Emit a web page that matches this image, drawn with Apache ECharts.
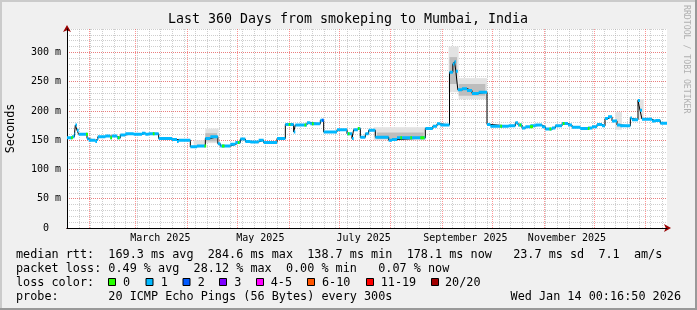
<!DOCTYPE html>
<html>
<head>
<meta charset="utf-8">
<script src="https://cdn.jsdelivr.net/npm/echarts@6/dist/echarts.min.js"></script>
<style>
  html, body { margin: 0; padding: 0; background: #f0f0f0; }
  #main { width: 697px; height: 310px; }
</style>
</head>
<body>
<div id="main"></div>
<script>
// time span: 360 days ending Wed Jan 14 2026
const startDay = Date.UTC(2025, 0, 19);
const spanDays = 360;

// median rtt (ms), step values: medianMs[i] holds from medianDays[i] to medianDays[i+1]
const medianDays = [0, 3, 4.5, 5, 6, 7, 12, 13, 17, 18, 18.5, 23, 26, 27, 30, 32, 35, 40, 45, 47, 49, 55,
  63, 66, 67, 74, 78, 83, 86, 90.5, 92, 98, 101, 104, 107, 110, 115, 118, 126, 131, 136, 137, 144, 146,
  152, 154, 162, 168, 171, 172, 174.5, 176, 179, 181, 185, 193, 195, 198, 215, 219.5, 222, 224, 229.5,
  231.5, 232.5, 233.3, 234.5, 237, 240, 243, 247, 252, 254, 265, 269, 270.6, 273, 275, 278, 281, 285,
  287, 291, 293, 297, 300.6, 303, 308, 312.6, 315, 318, 321, 322.8, 324.6, 327, 330, 332, 338, 339,
  342.6, 343.8, 345, 351, 353, 356, 360];
const medianMs = [154, 156, 161, 176, 167, 160, 153, 150, 148, 151, 156, 157, 154, 157, 154, 159, 161, 160,
  162, 160, 161, 153, 151, 148, 150, 139, 140, 153, 156, 144, 140, 143, 146, 152, 148, 147, 150, 146, 153,
  177, 164, 176, 180, 178, 184, 164, 168, 161, 153, 168, 170, 155, 161, 167, 155, 150, 151, 154, 170, 174,
  178, 176, 266, 280, 284, 268, 236, 238, 235, 230, 232, 177, 174, 174.5, 180, 176, 171, 173, 174.5, 176,
  173, 169, 171, 174.5, 178.5, 176, 172, 170, 171, 173, 177, 174.5, 187, 190, 183, 176, 174.5, 188, 185,
  218, 201, 186, 183, 183.5, 179, 178];

// day ranges where the median is drawn in another loss colour
const lossZeroRanges = [[2.5, 3.5], [11.4, 12.6], [26, 27], [30.5, 31.5], [51.5, 52.5], [82.5, 83.5],
  [93, 94.5], [102.5, 103.5], [133, 134], [142.5, 143.5], [147, 148], [168.5, 169.5], [174.5, 175.5],
  [200, 201], [206, 207], [212, 214.5], [260, 261], [271.5, 272.5], [277.8, 279.6], [289.5, 290.5],
  [297.5, 298.5], [312.5, 313.5]];
const lossTwoRanges = [[153, 154]];

// smoke: [fromDay, toDay, lowMs, highMs]
const smokeOuter = [[76, 83, 138, 150], [83, 91, 145, 170], [184, 215, 150, 172], [229, 235, 232, 310],
  [235, 252, 220, 256], [329, 333, 168, 198], [343, 346, 186, 220]];
const smokeInner = [[83, 90, 148, 162], [186, 214, 152, 163], [229.5, 234, 246, 292], [235, 251, 226, 246]];

const monthLabels = {
  '2025-03-16': 'March 2025',
  '2025-05-15': 'May 2025',
  '2025-07-16': 'July 2025',
  '2025-09-15': 'September 2025',
  '2025-11-15': 'November 2025'
};

const lossNames = ['0', '1', '2', '3', '4-5', '6-10', '11-19', '20/20'];
const lossColors = ['#26ff00', '#00b8ff', '#0059ff', '#7e00ff', '#ff00ff', '#ff5500', '#ff0000', '#a10000'];

const titleText = 'Last 360 Days from smokeping to Mumbai, India';
const statsRtt = 'median rtt:  169.3 ms avg  284.6 ms max  138.7 ms min  178.1 ms now   23.7 ms sd  7.1  am/s';
const statsLoss = 'packet loss: 0.49 % avg  28.12 % max  0.00 % min   0.07 % now';
const probeText = 'probe:       20 ICMP Echo Pings (56 Bytes) every 300s';
const dateText = 'Wed Jan 14 00:16:50 2026';

const mono = "'DejaVu Sans Mono', monospace";
const minorColor = 'rgba(165,165,165,0.55)';
const majorColor = 'rgba(255,60,60,0.55)';

const dayLabels = [];
for (let i = 0; i <= spanDays; i++) {
  dayLabels.push(new Date(startDay + i * 86400000).toISOString().slice(0, 10));
}
// calendar grid positions (days from start)
const monthStarts = [];
const sundays = [];
dayLabels.forEach((s, i) => {
  if (s.slice(8) === '01') monthStarts.push(i);
  else if (new Date(s + 'T00:00:00Z').getUTCDay() === 0 && i > 0) sundays.push(i);
});

function medianAt(d) {
  let v = medianMs[0];
  for (let i = 0; i < medianDays.length; i++) {
    if (medianDays[i] <= d) v = medianMs[i];
  }
  return v;
}

const medianLine = medianDays.map((d, i) => [d, medianMs[i]]);

const lossOnePieces = [];
for (let i = 0; i < medianDays.length - 1; i++) {
  lossOnePieces.push([medianDays[i], medianMs[i]], [medianDays[i + 1], medianMs[i]], [medianDays[i + 1], null]);
}

function rangePieces(ranges) {
  const out = [];
  ranges.forEach(r => {
    const v = medianAt(r[0]);
    out.push([r[0], v], [r[1], v], [r[1], null]);
  });
  return out;
}

function smokeSeries(rows, color) {
  return {
    type: 'custom',
    xAxisIndex: 2,
    yAxisIndex: 0,
    clip: true,
    silent: true,
    encode: { x: [0, 1], y: [2, 3] },
    data: rows,
    renderItem: function (params, api) {
      const a = api.coord([api.value(0), api.value(3)]);
      const b = api.coord([api.value(1), api.value(2)]);
      return {
        type: 'rect',
        shape: { x: a[0], y: a[1], width: b[0] - a[0], height: b[1] - a[1] },
        style: { fill: color }
      };
    }
  };
}

// vertical calendar grid lines, placed through the day axis
function gridSeries(days, color) {
  return {
    type: 'custom',
    xAxisIndex: 2,
    yAxisIndex: 0,
    silent: true,
    z: 1,
    encode: { x: 0, y: 1 },
    data: days.map(d => [d, 0]),
    renderItem: function (params, api) {
      const top = api.coord([api.value(0), 340]);
      const bottom = api.coord([api.value(0), 0]);
      const x = Math.round(top[0]) + 0.5;
      return {
        type: 'line',
        shape: { x1: x, y1: top[1], x2: x, y2: bottom[1] },
        style: { stroke: color, lineWidth: 1, lineDash: [1, 1] }
      };
    }
  };
}

function segSeries(data, color, width) {
  return {
    type: 'line',
    xAxisIndex: 2,
    yAxisIndex: 0,
    data: data,
    symbol: 'none',
    connectNulls: false,
    lineStyle: { color: color, width: width },
    silent: true
  };
}

// text and legend blocks under the plot
const graphics = [
  { type: 'rect', shape: { x: 0, y: 0, width: 697, height: 2 }, style: { fill: '#cbcbcb' } },
  { type: 'rect', shape: { x: 0, y: 0, width: 2, height: 310 }, style: { fill: '#cbcbcb' } },
  { type: 'rect', shape: { x: 0, y: 308, width: 697, height: 2 }, style: { fill: '#999999' } },
  { type: 'rect', shape: { x: 695, y: 0, width: 2, height: 310 }, style: { fill: '#999999' } },
  { type: 'text', x: 348, y: 19.5, style: { text: titleText, font: '13.3px ' + mono, fill: '#000', align: 'center', verticalAlign: 'middle' } },
  { type: 'text', x: 686, y: 5, rotation: -Math.PI / 2, style: { text: 'RRDTOOL / TOBI OETIKER', font: '8.2px ' + mono, fill: '#b0b0b0', align: 'left', verticalAlign: 'middle' } },
  { type: 'text', x: 16, y: 254.5, style: { text: statsRtt, font: '11.8px ' + mono, fill: '#000', verticalAlign: 'middle' } },
  { type: 'text', x: 16, y: 268.5, style: { text: statsLoss, font: '11.8px ' + mono, fill: '#000', verticalAlign: 'middle' } },
  { type: 'text', x: 16, y: 282.5, style: { text: 'loss color:', font: '11.8px ' + mono, fill: '#000', verticalAlign: 'middle' } },
  { type: 'text', x: 16, y: 296.5, style: { text: probeText, font: '11.8px ' + mono, fill: '#000', verticalAlign: 'middle' } },
  { type: 'text', x: 681, y: 296.5, style: { text: dateText, font: '11.8px ' + mono, fill: '#000', align: 'right', verticalAlign: 'middle' } }
];
const boxX = [108.5, 146, 183, 219.5, 256.5, 307.5, 366.5, 431.5];
const nameX = [123, 160.7, 197.7, 234.3, 270.7, 322, 380.7, 445];
lossNames.forEach((n, i) => {
  graphics.push({ type: 'rect', shape: { x: boxX[i], y: 278.5, width: 7, height: 7 }, style: { fill: lossColors[i], stroke: '#000', lineWidth: 1 } });
  graphics.push({ type: 'text', x: nameX[i], y: 282.5, style: { text: n, font: '11.8px ' + mono, fill: '#000', verticalAlign: 'middle' } });
});

const myChart = echarts.init(document.getElementById('main'));
const option = {
  animation: false,
  backgroundColor: '#f0f0f0',
  grid: [
    { left: 67, top: 29, width: 600, height: 199, show: true, backgroundColor: '#fff', borderWidth: 0, outerBoundsMode: 'none', containLabel: false },
    { left: 67, top: 52.4, width: 600, height: 175.6, show: false, outerBoundsMode: 'none', containLabel: false }
  ],
  xAxis: [
    {
      // month labels
      type: 'category', gridIndex: 0, position: 'bottom', data: dayLabels, boundaryGap: false,
      axisLine: { show: false },
      axisTick: { show: false },
      axisLabel: {
        interval: (i, v) => !!monthLabels[v],
        formatter: v => monthLabels[v] || '',
        color: '#000', fontFamily: mono, fontSize: 10, margin: 5
      },
      splitLine: { show: false }
    },
    { type: 'value', gridIndex: 0, min: 0, max: spanDays, show: false },
    { type: 'value', gridIndex: 0, min: 0, max: spanDays, show: false },
    { type: 'value', gridIndex: 1, min: 0, max: spanDays, show: false },
    {
      type: 'value', gridIndex: 0, min: 0, max: spanDays, position: 'bottom',
      axisLine: { show: true, onZero: false, symbol: ['none', 'arrow'], symbolSize: [6, 7], symbolOffset: [0, 4], lineStyle: { color: '#990000', width: 1 } },
      axisTick: { show: false }, axisLabel: { show: false }, splitLine: { show: false }, z: 1
    },
    {
      type: 'value', gridIndex: 0, min: 0, max: spanDays, position: 'bottom',
      axisLine: { show: true, onZero: false, lineStyle: { color: '#000', width: 1 } },
      axisTick: { show: false }, axisLabel: { show: false }, splitLine: { show: false }, z: 1.5
    }
  ],
  yAxis: [
    {
      type: 'value', gridIndex: 0, min: 0, max: 340, interval: 10, position: 'left',
      name: 'Seconds', nameLocation: 'middle', nameGap: 50, nameRotate: 90,
      nameTextStyle: { color: '#000', fontFamily: mono, fontSize: 11.8 },
      axisLine: { show: false }, axisTick: { show: false }, axisLabel: { show: false },
      splitLine: { show: true, lineStyle: { color: minorColor, width: 1, type: [1, 1] } }
    },
    {
      type: 'value', gridIndex: 1, min: 0, max: 300, interval: 50, position: 'left',
      axisLine: { show: false }, axisTick: { show: false },
      axisLabel: {
        formatter: v => (v === 0 ? '0  ' : v + ' m'),
        color: '#000', fontFamily: mono, fontSize: 10, margin: 6
      },
      splitLine: { show: true, lineStyle: { color: majorColor, width: 1, type: [1, 1] } },
      z: 1
    },
    {
      type: 'value', gridIndex: 0, min: 0, max: 340, position: 'left',
      axisLine: { show: true, onZero: false, symbol: ['none', 'arrow'], symbolSize: [6, 7], symbolOffset: [0, 4], lineStyle: { color: '#990000', width: 1 } },
      axisTick: { show: false }, axisLabel: { show: false }, splitLine: { show: false }, z: 1
    },
    {
      type: 'value', gridIndex: 0, min: 0, max: 340, position: 'left',
      axisLine: { show: true, onZero: false, lineStyle: { color: '#000', width: 1 } },
      axisTick: { show: false }, axisLabel: { show: false }, splitLine: { show: false }, z: 1.5
    }
  ],
  series: [
    gridSeries(sundays, minorColor),
    gridSeries(monthStarts, majorColor),
    smokeSeries(smokeOuter, '#e2e2e2'),
    smokeSeries(smokeInner, '#bdbdbd'),
    Object.assign(segSeries(medianLine, '#000', 1), { step: 'end' }),
    segSeries(lossOnePieces, lossColors[1], 3),
    segSeries(rangePieces(lossZeroRanges), lossColors[0], 3),
    segSeries(rangePieces(lossTwoRanges), lossColors[2], 3)
  ],
  graphic: graphics
};

myChart.setOption(option);
</script>
</body>
</html>
